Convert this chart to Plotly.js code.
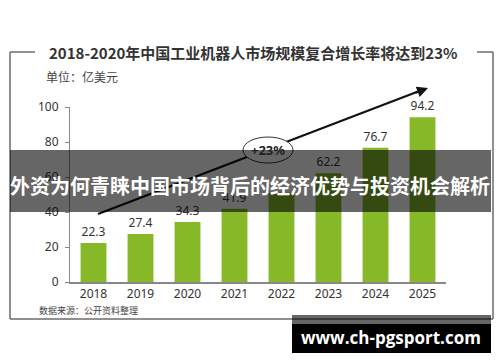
<!DOCTYPE html>
<html>
<head>
<meta charset="utf-8">
<script src="https://cdn.plot.ly/plotly-3.0.1.min.js"></script>
<style>html,body{margin:0;padding:0;background:#fff;}#chart{width:500px;height:362px;}</style>
</head>
<body>
<div id="chart"></div>
<script>
const years = ['2018','2019','2020','2021','2022','2023','2024','2025'];
const marketSize = [22.3, 27.4, 34.3, 41.9, 51.0, 62.2, 76.7, 94.2];
const valueLabels = ['22.3','27.4','34.3','41.9','','62.2','76.7','94.2'];
const yTicks = [0, 20, 40, 60, 80, 100];
const titleText = '2018-2020年中国工业机器人市场规模复合增长率将达到23%';
const unitText = '单位：亿美元';
const sourceText = '数据来源：公开资料整理';
const cagrText = '+23%';
const bannerText = '外资为何青睐中国市场背后的经济优势与投资机会解析';
const watermarkText = 'www.ch-pgsport.com';

// plot area in pixels
const L = 70, R = 446, T = 107, B = 282;
const px = v => (v - L) / (R - L);
const py = v => (B - v) / (B - T);
const FONT = '"Noto Sans CJK SC", "Noto Sans", sans-serif';

const trace = {
  type: 'bar',
  x: years,
  y: marketSize,
  marker: {color: '#86b828'},
  text: valueLabels,
  textposition: 'outside',
  textfont: {size: 12, color: '#333', family: '"Noto Sans", sans-serif'},
  cliponaxis: false,
  hoverinfo: 'none'
};

const frameColor = '#6b6b6b';
const shapes = [
  // frame
  {type:'line', xref:'paper', yref:'paper', x0:px(10), x1:px(35), y0:py(52), y1:py(52), line:{color:frameColor, width:1.5}},
  {type:'line', xref:'paper', yref:'paper', x0:px(477), x1:px(493), y0:py(52), y1:py(52), line:{color:frameColor, width:1.5}},
  {type:'line', xref:'paper', yref:'paper', x0:px(10), x1:px(10), y0:py(52), y1:py(319), line:{color:frameColor, width:1.5}},
  {type:'line', xref:'paper', yref:'paper', x0:px(493), x1:px(493), y0:py(52), y1:py(319), line:{color:frameColor, width:1.5}},
  {type:'line', xref:'paper', yref:'paper', x0:px(10), x1:px(493), y0:py(319), y1:py(319), line:{color:frameColor, width:1.5}},
  // growth arrow line
  {type:'line', xref:'paper', yref:'paper', x0:px(98), y0:py(214), x1:px(422), y1:py(90), line:{color:'#111', width:2.2}, layer:'above'},
  // ellipse
  {type:'circle', xref:'paper', yref:'paper', x0:px(243), x1:px(293), y0:py(137), y1:py(163), fillcolor:'#fff', line:{color:'#333', width:1}, layer:'above'},
  // banner
  {type:'rect', xref:'paper', yref:'paper', x0:px(10), x1:px(491), y0:py(150), y1:py(212), fillcolor:'rgba(0,0,0,0.6)', line:{width:0}, layer:'above'},
  // watermark
  {type:'rect', xref:'paper', yref:'paper', x0:px(292), x1:px(491), y0:py(315), y1:py(324), fillcolor:'rgba(0,0,0,0.6)', line:{width:0}, layer:'above'},
  {type:'rect', xref:'paper', yref:'paper', x0:px(292), x1:px(491), y0:py(324), y1:py(353), fillcolor:'#000', line:{width:0}, layer:'above'}
];

const annotations = [
  {xref:'paper', yref:'paper', x:px(253), y:py(52), text:'<b>'+titleText+'</b>', showarrow:false, xanchor:'center', yanchor:'middle', font:{size:15, color:'#333', family:FONT}},
  {xref:'paper', yref:'paper', x:px(44), y:py(77), text:unitText, showarrow:false, xanchor:'left', yanchor:'middle', font:{size:12, color:'#444', family:FONT}},
  {xref:'paper', yref:'paper', x:px(37), y:py(310), text:sourceText, showarrow:false, xanchor:'left', yanchor:'middle', font:{size:9, color:'#444', family:FONT}},
  // arrow head
  {xref:'paper', yref:'paper', x:px(428), y:py(88), ax:-14, ay:5.4, text:'', showarrow:true, arrowhead:2, arrowsize:1, arrowwidth:2.2, arrowcolor:'#111'},
  {xref:'paper', yref:'paper', x:px(268), y:py(150), text:'<b>'+cagrText+'</b>', showarrow:false, xanchor:'center', yanchor:'middle', font:{size:13, color:'#222', family:'"Noto Sans", sans-serif'}},
  {xref:'paper', yref:'paper', x:px(250), y:py(185), text:'<b>'+bannerText+'</b>', showarrow:false, xanchor:'center', yanchor:'middle', font:{size:20, color:'#fff', family:FONT}},
  {xref:'paper', yref:'paper', x:px(391), y:py(337), text:'<b>'+watermarkText+'</b>', showarrow:false, xanchor:'center', yanchor:'middle', font:{size:17, color:'#fff', family:'"Open Sans", "Noto Sans", sans-serif'}}
];

const layout = {
  width: 500, height: 362,
  margin: {l: L, r: 500 - R, t: T, b: 362 - B, pad: 0},
  paper_bgcolor: '#fff', plot_bgcolor: '#fff',
  showlegend: false,
  bargap: 0.45,
  font: {family: FONT, color: '#333'},
  xaxis: {
    type: 'category',
    showline: true, linecolor: '#888', linewidth: 1.5,
    ticks: '', showgrid: false, zeroline: false,
    tickfont: {size: 12, color: '#333', family: '"Noto Sans", sans-serif'},
    fixedrange: true
  },
  yaxis: {
    range: [0, 100],
    tickvals: yTicks,
    showline: true, linecolor: '#888', linewidth: 1,
    ticks: 'outside', ticklen: 4, tickcolor: '#888', tickwidth: 1,
    showgrid: false, zeroline: false,
    tickfont: {size: 12, color: '#333', family: '"Noto Sans", sans-serif'},
    ticklabelstandoff: 4,
    fixedrange: true
  },
  shapes: shapes,
  annotations: annotations
};

Plotly.newPlot('chart', [trace], layout, {displayModeBar: false, staticPlot: true});
</script>
</body>
</html>
